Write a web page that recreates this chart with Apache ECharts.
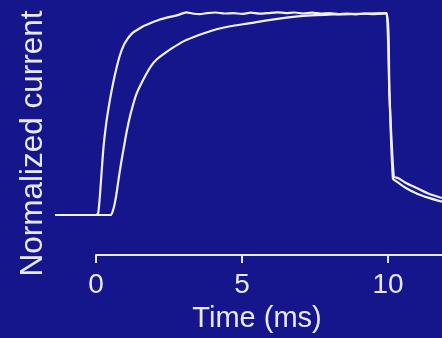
<!DOCTYPE html>
<html>
<head>
<meta charset="utf-8">
<script src="https://cdn.jsdelivr.net/npm/echarts@6/dist/echarts.min.js"></script>
<style>
html,body{margin:0;padding:0;background:#15168c;}
#chart{width:442px;height:338px;}
</style>
</head>
<body>
<div id="chart"></div>
<script>
// Time (ms) and normalized current for the two traces
const fastTrace = [[-1.4,0],[0,0],[0.08,0.01],[0.15,0.12],[0.25,0.32],[0.35,0.45],[0.48,0.57],[0.6,0.66],[0.71,0.73],[0.82,0.79],[0.95,0.84],[1.05,0.865],[1.15,0.885],[1.28,0.905],[1.45,0.92],[1.62,0.935],[1.9,0.952],[2.19,0.968],[2.5,0.98],[2.8,0.99],[3.1,1.004],[3.3,0.998],[3.56,0.995],[3.8,1.0],[4.1,1.003],[4.4,0.998],[4.7,1.0],[5.0,0.996],[5.3,1.002],[5.6,0.997],[5.9,1.0],[6.2,1.004],[6.5,1.0],[6.8,1.003],[7.1,0.998],[7.4,1.002],[7.7,0.997],[8.0,1.0],[8.3,0.995],[8.6,0.998],[8.9,0.994],[9.2,0.997],[9.5,0.995],[9.8,0.997],[9.95,1.0],[10.05,0.6],[10.2,0.19],[10.34,0.183],[10.6,0.16],[10.98,0.134],[11.4,0.105],[11.85,0.084]];
const slowTrace = [[-1.4,0],[0.5,0],[0.58,0.02],[0.65,0.06],[0.71,0.11],[0.8,0.2],[0.89,0.28],[0.94,0.32],[1.05,0.41],[1.17,0.49],[1.28,0.55],[1.39,0.6],[1.55,0.65],[1.73,0.7],[1.9,0.74],[2.08,0.77],[2.35,0.8],[2.65,0.83],[3.0,0.86],[3.33,0.88],[3.7,0.9],[4.13,0.92],[4.6,0.935],[5.27,0.95],[5.8,0.963],[6.4,0.975],[7.0,0.985],[7.55,0.99],[8.1,0.993],[8.7,0.995],[9.3,0.998],[9.95,1.0],[10.05,0.6],[10.17,0.18],[10.3,0.165],[10.6,0.135],[10.98,0.107],[11.4,0.085],[11.85,0.066]];
const xTicks = [0, 5, 10];
const xAxisName = 'Time (ms)';
const yAxisName = 'Normalized current';

const textColor = '#e8e8ff';
const font = 'Liberation Sans, Arial, sans-serif';
const chart = echarts.init(document.getElementById('chart'));
chart.setOption({
  backgroundColor: '#15168c',
  animation: false,
  grid: [
    {left: 55, right: 0, top: 3, bottom: 123},
    {left: 96, right: 0, top: 32, bottom: 82}
  ],
  xAxis: [
    {gridIndex: 0, type: 'value', min: -1.4, max: 11.85, show: false},
    {gridIndex: 1, type: 'value', min: 0, max: 11.85,
     axisLine: {show: true, lineStyle: {color: textColor, width: 2}},
     axisTick: {show: true, length: 8, customValues: xTicks, lineStyle: {color: textColor, width: 2}},
     axisLabel: {color: textColor, fontSize: 28, fontFamily: font, margin: 16, customValues: xTicks},
     splitLine: {show: false},
     name: xAxisName, nameLocation: 'middle', nameGap: 45,
     nameTextStyle: {color: textColor, fontSize: 29, fontFamily: font, padding: [0, 24, 0, 0]}}
  ],
  yAxis: [
    {gridIndex: 0, type: 'value', min: 0, max: 1.05, show: false},
    {gridIndex: 1, type: 'value', min: 0, max: 1,
     axisLine: {show: false}, axisTick: {show: false}, axisLabel: {show: false}, splitLine: {show: false},
     name: yAxisName, nameLocation: 'middle', nameRotate: 90, nameGap: 47,
     nameTextStyle: {color: textColor, fontSize: 31.5, fontFamily: font}}
  ],
  series: [
    {type: 'line', xAxisIndex: 0, yAxisIndex: 0, data: fastTrace, showSymbol: false, clip: false,
     smooth: 0.2, lineStyle: {color: '#f0f0ff', width: 2.2}},
    {type: 'line', xAxisIndex: 0, yAxisIndex: 0, data: slowTrace, showSymbol: false, clip: false,
     smooth: 0.2, lineStyle: {color: '#f0f0ff', width: 2.2}}
  ]
});
</script>
</body>
</html>
